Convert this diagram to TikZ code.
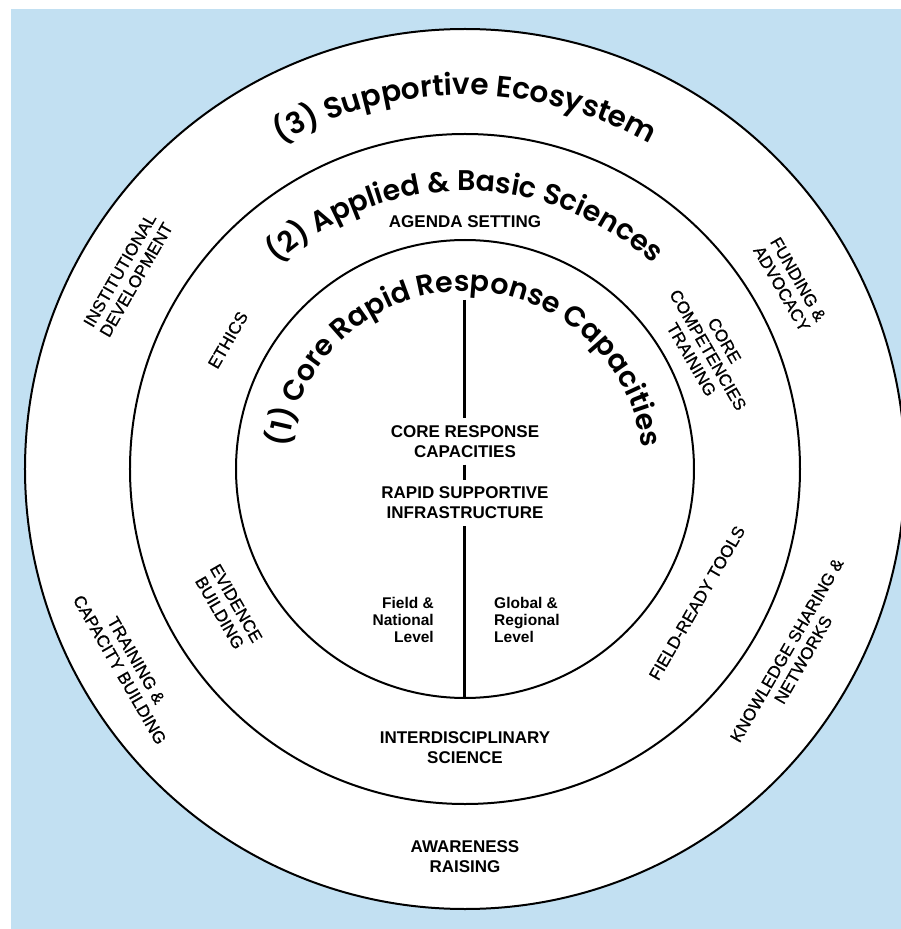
\documentclass[tikz,border=0pt]{standalone}
\usepackage{fontspec}
\setmainfont{Liberation Sans}
\newfontfamily\titlefont{Poppins SemiBold}
\newfontfamily\ringfont{Liberation Sans}[FakeBold=0.7]
\usetikzlibrary{decorations.text}
\definecolor{skyback}{RGB}{194,224,242}

\begin{document}
\begin{tikzpicture}[x=1pt,y=1pt]
\useasboundingbox (-465,-460) rectangle (436,469);
\fill [skyback] (-454,-460) rectangle (436,460);

\begin{scope}[line width=2pt]
    \filldraw [fill=white] (0,0) circle (440);
    \draw (0,0) circle (335);
    \draw (0,0) circle (229);
\end{scope}

\path [decorate, decoration={text along path, text align=center,
    text={|\titlefont\fontsize{29.5}{30}\selectfont|(3) Supportive Ecosystem}}]
    (160:374) arc [start angle=160, end angle=20, radius=374];
\path [decorate, decoration={text along path, text align=center,
    text={|\titlefont\fontsize{28.5}{29}\selectfont|(2) Applied {\&} Basic Sciences}}]
    (170:278) arc [start angle=170, end angle=10, radius=278];
\path [decorate, decoration={text along path, text align=center,
    text={|\titlefont\fontsize{28.5}{29}\selectfont|(1)  Core Rapid Response Capacities}}]
    (185:178) arc [start angle=185, end angle=-5, radius=178];

\begin{scope}[every node/.style={align=center, font=\ringfont\fontsize{17}{19}\selectfont}]
    \node [font=\bfseries\fontsize{17}{20}\selectfont] (agenda) at (0,247) {AGENDA SETTING};
    \node [font=\bfseries\fontsize{17}{20}\selectfont] (interdisc) at (0,-279) {INTERDISCIPLINARY\\SCIENCE};
    \node [font=\bfseries\fontsize{17}{20}\selectfont] (awareness) at (0,-388) {AWARENESS\\RAISING};

    \node [rotate=60] (institut) at (-337,194) {INSTITUTIONAL\\DEVELOPMENT};
    \node [rotate=60] (ethics) at (-237,129) {ETHICS};
    \node [rotate=-60] (funding) at (325,185) {FUNDING \&\\ADVOCACY};
    \node [rotate=-60] (compet) at (243,119) {CORE\\COMPETENCIES\\TRAINING};
    \node [rotate=60] (fieldtools) at (232,-134) {FIELD-READY TOOLS};
    \node [rotate=60] (knowledge) at (330,-186) {KNOWLEDGE SHARING \&\\NETWORKS};
    \node [rotate=-60] (training) at (-337,-196) {TRAINING \&\\CAPACITY BUILDING};
    \node [rotate=-60] (evidence) at (-237,-139) {EVIDENCE\\BUILDING};

    \node [font=\bfseries\fontsize{17}{20}\selectfont, inner sep=7pt] (coreresp) at (0,27.5) {CORE RESPONSE\\CAPACITIES};
    \node [font=\bfseries\fontsize{17}{20}\selectfont, inner sep=7pt] (rapid) at (0,-34) {RAPID SUPPORTIVE\\INFRASTRUCTURE};

    \node [anchor=east, align=right, inner sep=0, font=\bfseries\fontsize{15.5}{17}\selectfont] (fieldlev) at (-31,-151) {Field \&\\National\\Level};
    \node [anchor=west, align=left, inner sep=0, font=\bfseries\fontsize{15.5}{17}\selectfont] (globallev) at (29,-151) {Global \&\\Regional\\Level};

    \coordinate (ltop) at (0,169);
    \coordinate (lbot) at (0,-229);
    \path [line width=3pt] (ltop) edge (coreresp);
    \path [line width=3pt] (coreresp) edge (rapid);
    \path [line width=3pt] (rapid) edge (lbot);
\end{scope}

\end{tikzpicture}
\end{document}
